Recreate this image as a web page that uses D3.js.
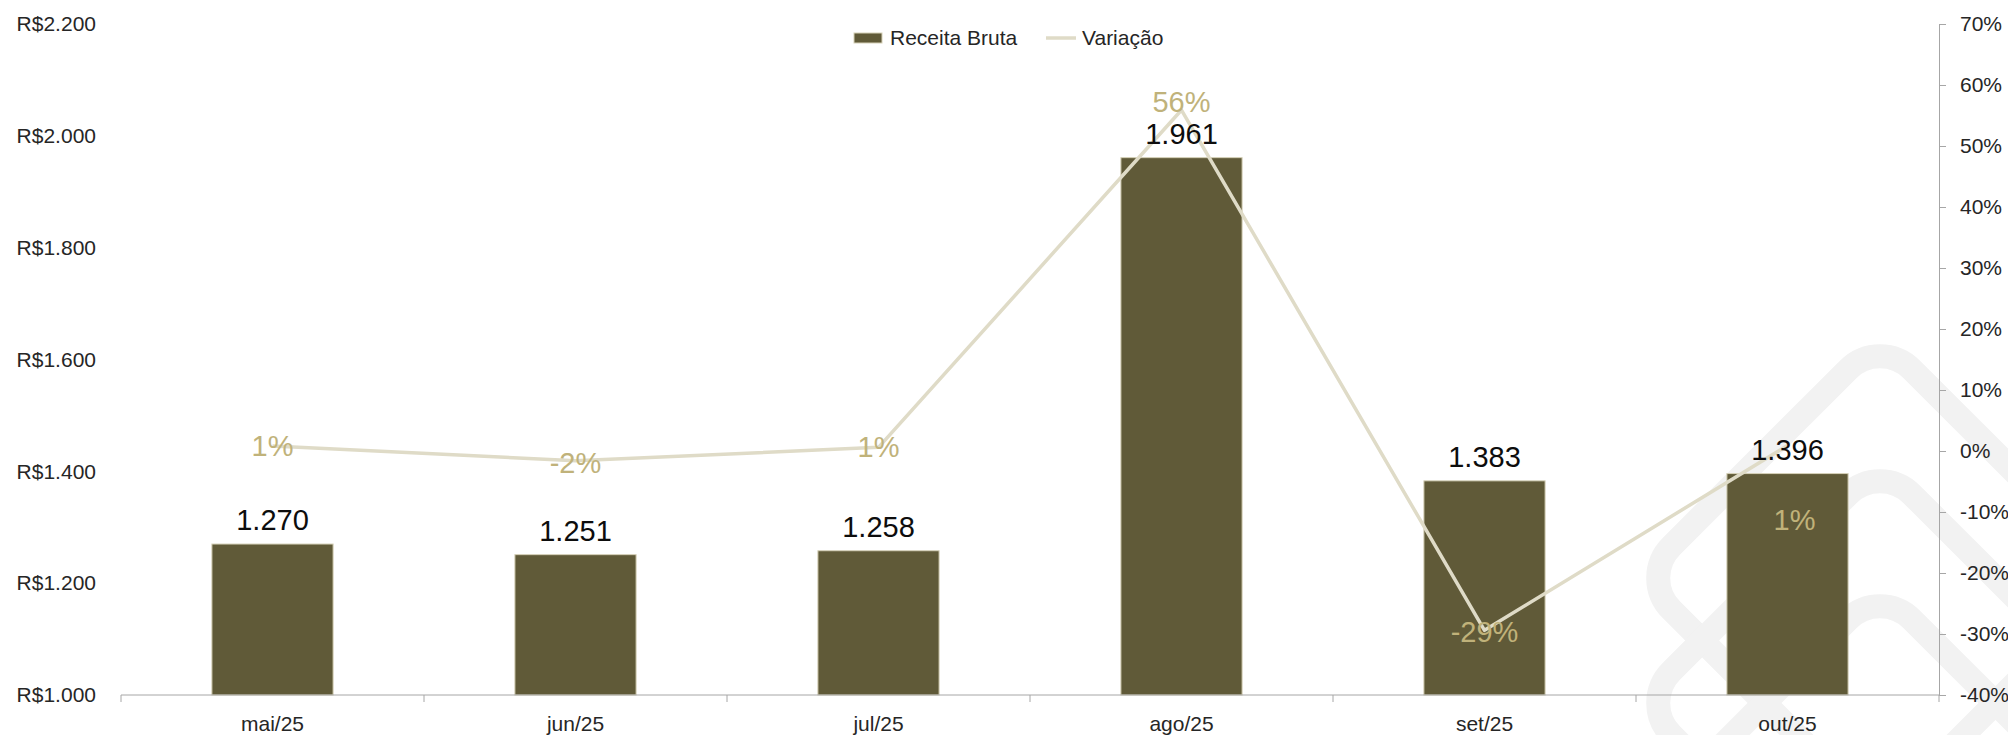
<!DOCTYPE html>
<html>
<head>
<meta charset="utf-8">
<script src="https://cdn.jsdelivr.net/npm/d3@7"></script>
<style>
  body { margin: 0; background: #fff; }
  svg { display: block; font-family: "Liberation Sans", Arial, sans-serif; }
</style>
</head>
<body>
<div id="vis"></div>
<script>
// data
const categories = ["mai/25", "jun/25", "jul/25", "ago/25", "set/25", "out/25"];
const receitaBruta = [1270, 1251, 1258, 1961, 1383, 1396];
const variacao = [0.8, -1.6, 0.6, 55.9, -29.4, 0.9];   // in %
const leftTicks = [1000, 1200, 1400, 1600, 1800, 2000, 2200];
const rightTicks = [-40, -30, -20, -10, 0, 10, 20, 30, 40, 50, 60, 70];

const FRAME_WIDTH = 2008;
const FRAME_HEIGHT = 735;
const MARGINS = {left: 121, right: 69, top: 24, bottom: 40};
const BASE_Y = FRAME_HEIGHT - MARGINS.bottom;   // 695
const RIGHT_X = FRAME_WIDTH - MARGINS.right;     // 1939

const BAR_COLOR = "#605a38";
const LINE_COLOR = "#dfdbc7";
const PCT_COLOR = "#c0b27a";

// small nudges for the % labels (as placed in the original)
const PCT_NUDGE = [[0, 0], [0, 2], [0, 0], [0, -8], [0, 2], [7, 74]];

const locale = d3.formatLocale({decimal: ",", thousands: ".", grouping: [3], currency: ["R$", ""]});
const fmtMoney = locale.format("$,");
const fmtNum = locale.format(",");

const svg = d3.select("#vis").append("svg")
    .attr("width", FRAME_WIDTH)
    .attr("height", FRAME_HEIGHT);

// watermark in the corner
const wm = svg.append("g");
[0, 1, 2].forEach((i) => {
    const cx = 1880, cy = 578 + i * 125, side = 340;
    wm.append("rect")
        .attr("x", cx - side / 2)
        .attr("y", cy - side / 2)
        .attr("width", side)
        .attr("height", side)
        .attr("rx", 45)
        .attr("transform", "rotate(45," + cx + "," + cy + ")")
        .attr("fill", "none")
        .attr("stroke", "#f2f2f2")
        .attr("stroke-width", 24);
});

const X = d3.scaleBand()
    .domain(categories)
    .range([MARGINS.left, RIGHT_X])
    .paddingInner(0.6)
    .paddingOuter(0.3);

const Y_LEFT = d3.scaleLinear()
    .domain([1000, 2200])
    .range([BASE_Y, MARGINS.top]);

const Y_RIGHT = d3.scaleLinear()
    .domain([-40, 70])
    .range([BASE_Y, MARGINS.top]);

const cx = (c) => X(c) + X.bandwidth() / 2;

// left axis (labels only)
const gl = svg.append("g")
    .attr("transform", "translate(96,0)")
    .call(d3.axisLeft(Y_LEFT).tickValues(leftTicks).tickFormat(fmtMoney).tickSize(0).tickPadding(0));
gl.select(".domain").remove();
gl.selectAll("text").attr("font-size", 21).attr("fill", "#262626")
    .attr("font-family", "Liberation Sans, Arial, sans-serif");

// right axis
const gr = svg.append("g")
    .attr("transform", "translate(" + RIGHT_X + ",0)")
    .call(d3.axisRight(Y_RIGHT).tickValues(rightTicks).tickFormat((d) => d + "%")
        .tickSize(7).tickSizeOuter(7).tickPadding(14));
gr.selectAll("path, line").attr("stroke", "#a6a6a6");
gr.selectAll("text").attr("font-size", 21).attr("fill", "#262626")
    .attr("font-family", "Liberation Sans, Arial, sans-serif");

// bars
svg.selectAll(".bar")
    .data(categories)
    .enter()
    .append("rect")
    .attr("class", "bar")
    .attr("x", (d) => X(d))
    .attr("y", (d, i) => Y_LEFT(receitaBruta[i]))
    .attr("width", X.bandwidth())
    .attr("height", (d, i) => BASE_Y - Y_LEFT(receitaBruta[i]))
    .attr("fill", BAR_COLOR)
    .attr("stroke", "#d6d1b8")
    .attr("stroke-width", 1);

// category axis: labels at centers, ticks on band boundaries
const gx = svg.append("g")
    .attr("transform", "translate(0," + BASE_Y + ")")
    .call(d3.axisBottom(X).tickSize(0).tickPadding(21));
gx.select(".domain").remove();
gx.selectAll("text").attr("font-size", 21).attr("fill", "#262626")
    .attr("font-family", "Liberation Sans, Arial, sans-serif");

svg.append("line")
    .attr("x1", MARGINS.left).attr("x2", RIGHT_X)
    .attr("y1", BASE_Y).attr("y2", BASE_Y)
    .attr("stroke", "#a6a6a6").attr("stroke-width", 1);

svg.selectAll(".xtick")
    .data(d3.range(categories.length + 1))
    .enter()
    .append("line")
    .attr("class", "xtick")
    .attr("x1", (i) => MARGINS.left + i * X.step())
    .attr("x2", (i) => MARGINS.left + i * X.step())
    .attr("y1", BASE_Y)
    .attr("y2", BASE_Y + 7)
    .attr("stroke", "#a6a6a6");

// variation line
const line = d3.line()
    .x((d, i) => cx(categories[i]))
    .y((d) => Y_RIGHT(d));

svg.append("path")
    .datum(variacao)
    .attr("d", line)
    .attr("fill", "none")
    .attr("stroke", LINE_COLOR)
    .attr("stroke-width", 3.5)
    .attr("stroke-linejoin", "round");

// bar value labels
svg.selectAll(".val")
    .data(categories)
    .enter()
    .append("text")
    .attr("class", "val")
    .attr("x", (d) => cx(d))
    .attr("y", (d, i) => Y_LEFT(receitaBruta[i]) - 14)
    .attr("text-anchor", "middle")
    .attr("font-size", 29)
    .attr("fill", "#0d0d0d")
    .text((d, i) => fmtNum(receitaBruta[i]));

// % labels
svg.selectAll(".pct")
    .data(categories)
    .enter()
    .append("text")
    .attr("class", "pct")
    .attr("x", (d, i) => cx(d) + PCT_NUDGE[i][0])
    .attr("y", (d, i) => Y_RIGHT(variacao[i]) + PCT_NUDGE[i][1])
    .attr("dy", "0.35em")
    .attr("text-anchor", "middle")
    .attr("font-size", 29)
    .attr("fill", PCT_COLOR)
    .text((d, i) => Math.round(variacao[i]) + "%");

// legend
const lg = svg.append("g");
lg.append("rect")
    .attr("x", 854).attr("y", 33).attr("width", 28).attr("height", 10)
    .attr("fill", BAR_COLOR).attr("stroke", "#d6d1b8");
lg.append("text")
    .attr("x", 890).attr("y", 38).attr("dy", "0.35em")
    .attr("font-size", 21).attr("fill", "#262626")
    .text("Receita Bruta");
lg.append("line")
    .attr("x1", 1046).attr("x2", 1076).attr("y1", 38).attr("y2", 38)
    .attr("stroke", LINE_COLOR).attr("stroke-width", 3.5);
lg.append("text")
    .attr("x", 1082).attr("y", 38).attr("dy", "0.35em")
    .attr("font-size", 21).attr("fill", "#262626")
    .text("Variação");
</script>
</body>
</html>
